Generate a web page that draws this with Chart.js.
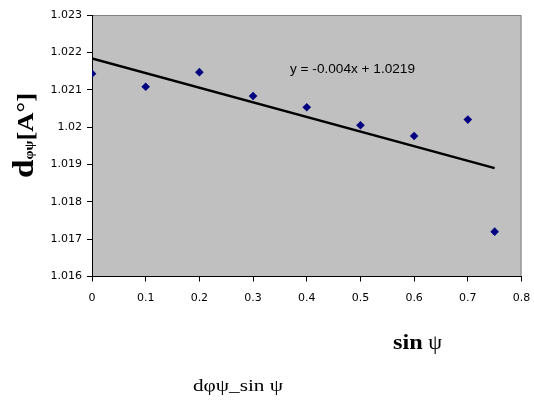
<!DOCTYPE html>
<html>
<head>
<meta charset="utf-8">
<script src="https://cdn.jsdelivr.net/npm/chart.js@4.4.0/dist/chart.umd.min.js"></script>
<style>
  body { margin: 0; background: #fff; }
  canvas { display: block; }
</style>
</head>
<body>
<canvas id="chart" width="534" height="402"></canvas>
<script>
const sinPsi = [0, 0.1, 0.2, 0.3, 0.4, 0.5, 0.6, 0.7, 0.75];
const dPhiPsi = [1.02143, 1.02108, 1.02147, 1.02083, 1.02053, 1.02005, 1.01976, 1.0202, 1.0172];
const trendX = [0, 0.75];
const trendY = [1.02184, 1.0189];
const trendLabel = "y = -0.004x + 1.0219";

// a run of text pieces, each with its own font, fitted to a given width
function drawRich(ctx, parts, cx, base, width, rot) {
  ctx.save();
  ctx.translate(cx, base);
  if (rot) ctx.rotate(rot);
  let total = 0;
  parts.forEach(p => { ctx.font = p.font; p.w = ctx.measureText(p.text).width; total += p.w; });
  ctx.scale(width / total, 1);
  ctx.fillStyle = '#000';
  ctx.textBaseline = 'alphabetic';
  ctx.textAlign = 'left';
  let x = -total / 2;
  parts.forEach(p => { ctx.font = p.font; ctx.fillText(p.text, x, p.dy || 0); x += p.w; });
  ctx.restore();
}

const plotFrame = {
  id: 'plotFrame',
  beforeDraw(chart) {
    const {ctx, chartArea: a} = chart;
    ctx.save();
    ctx.fillStyle = '#c0c0c0';
    ctx.fillRect(a.left, a.top, a.right - a.left, a.bottom - a.top);
    ctx.strokeStyle = '#808080';
    ctx.lineWidth = 1;
    ctx.beginPath();
    ctx.moveTo(a.left, a.top + 0.5);
    ctx.lineTo(a.right - 0.5, a.top + 0.5);
    ctx.lineTo(a.right - 0.5, a.bottom);
    ctx.stroke();
    ctx.restore();
  },
  afterDraw(chart) {
    const ctx = chart.ctx;
    drawRich(ctx, [{text: trendLabel, font: '13px "Liberation Sans"'}], 352.5, 72.7, 125);
    drawRich(ctx, [
      {text: 'd', font: 'bold 30px "Liberation Serif"'},
      {text: 'φψ', font: 'bold 13px "Liberation Serif"'},
      {text: '[A°]', font: 'bold 24px "Liberation Serif"'}
    ], 33, 135.5, 85, -Math.PI / 2);
    drawRich(ctx, [
      {text: 'sin', font: 'bold 22px "Liberation Serif"'},
      {text: ' ψ', font: '20px "Liberation Serif"'}
    ], 417.5, 349, 49);
    drawRich(ctx, [{text: 'dφψ_sin ψ', font: '16px "Liberation Serif"'}], 238, 391, 90);
  }
};

const tickFont = {family: 'DejaVu Sans', size: 11};

new Chart(document.getElementById('chart'), {
  type: 'scatter',
  data: {
    datasets: [
      {
        label: 'dφψ',
        data: sinPsi.map((x, i) => ({x, y: dPhiPsi[i]})),
        pointStyle: 'rectRot',
        pointRadius: 4.3,
        pointBackgroundColor: '#000080',
        pointBorderWidth: 0,
        order: 0
      },
      {
        label: 'Linear',
        data: trendX.map((x, i) => ({x, y: trendY[i]})),
        showLine: true,
        pointRadius: 0,
        borderColor: '#000',
        borderWidth: 2.5,
        order: 1
      }
    ]
  },
  options: {
    responsive: false,
    animation: false,
    layout: {padding: {top: 15, right: 12.5, left: 0, bottom: 0}},
    plugins: {legend: {display: false}, tooltip: {enabled: false}},
    scales: {
      x: {
        type: 'linear', min: 0, max: 0.8,
        ticks: {stepSize: 0.1, color: '#000', font: tickFont, padding: 10, maxRotation: 0, autoSkip: false,
                callback: v => String(+v.toFixed(1))},
        grid: {drawOnChartArea: false, tickLength: 5, color: '#000'},
        border: {color: '#000'},
        afterFit: s => { s.height = 125.5; s.paddingRight = 0; s.paddingLeft = 0; }
      },
      y: {
        min: 1.016, max: 1.023,
        ticks: {stepSize: 0.001, color: '#000', font: tickFont, padding: 5, autoSkip: false,
                callback: v => String(+v.toFixed(3))},
        grid: {drawOnChartArea: false, tickLength: 5, color: '#000'},
        border: {color: '#000'},
        afterFit: s => { s.width = 92; }
      }
    }
  },
  plugins: [plotFrame]
});
</script>
</body>
</html>
